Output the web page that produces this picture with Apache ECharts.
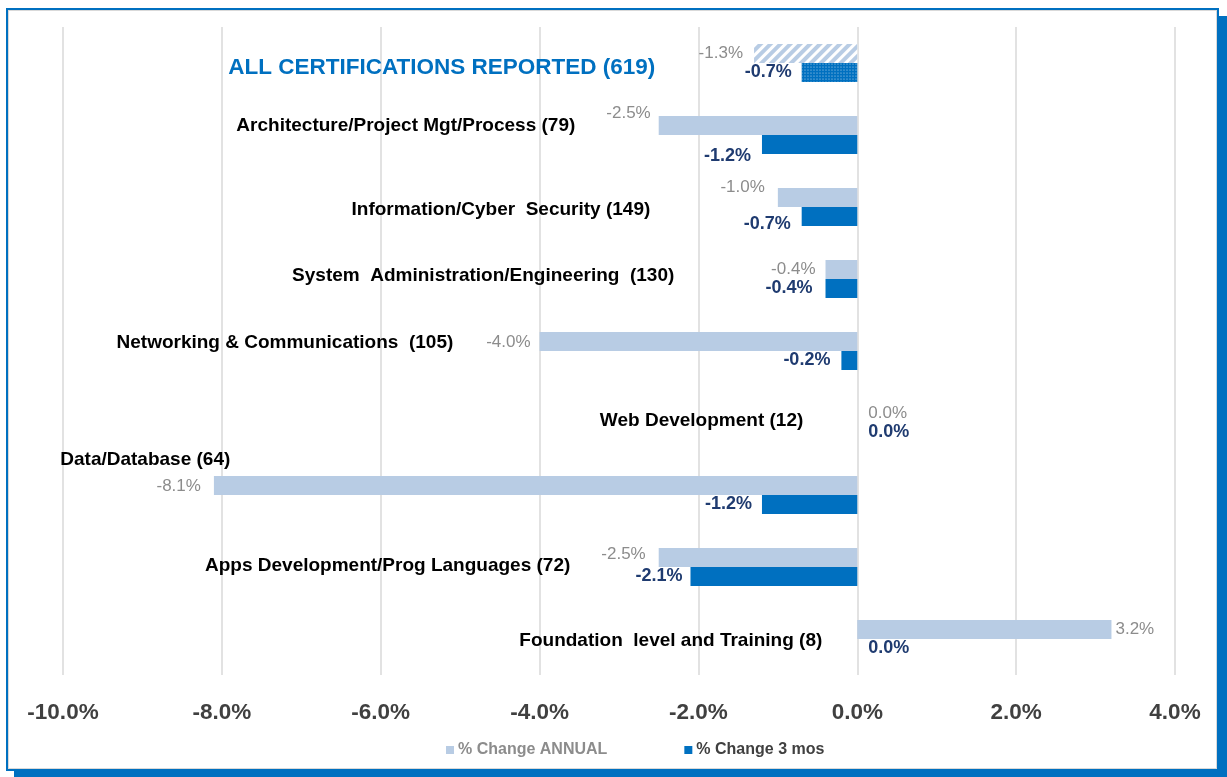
<!DOCTYPE html>
<html>
<head>
<meta charset="utf-8">
<script src="https://cdn.jsdelivr.net/npm/echarts@6/dist/echarts.min.js"></script>
<style>
  html, body { margin: 0; padding: 0; background: #fff; }
  #frame {
    position: absolute; left: 6px; top: 8px; width: 1209px; height: 759px;
    border: 2px solid #0070C0;
    box-shadow: inset 0 0 0 1px #d9d9d9, 8px 8px 0 #0070C0;
  }
  #chart { position: absolute; left: 0; top: 0; width: 1227px; height: 777px; }
</style>
</head>
<body>
<div id="frame"></div>
<div id="chart"></div>
<script>
// categories, top to bottom
const categories = [
  'ALL CERTIFICATIONS REPORTED (619)',
  'Architecture/Project Mgt/Process (79)',
  'Information/Cyber  Security (149)',
  'System  Administration/Engineering  (130)',
  'Networking & Communications  (105)',
  'Web Development (12)',
  'Data/Database (64)',
  'Apps Development/Prog Languages (72)',
  'Foundation  level and Training (8)'
];
// % change values
const annual   = [-1.3, -2.5, -1.0, -0.4, -4.0, 0.0, -8.1, -2.5, 3.2];
const threeMos = [-0.7, -1.2, -0.7, -0.4, -0.2, 0.0, -1.2, -2.1, 0.0];
const seriesNames = ['% Change ANNUAL', '% Change 3 mos'];

// label nudges (px) as placed by hand in the original
const annualShift = [[-11, 0], [-8, -12], [-13, -10], [-10, 0], [-9, 1], [11, 0], [-13, 1], [-13, -3], [4, 0]];
const threeShift  = [[-10, 0], [-11, 12], [-11, 8], [-13, 0], [-11, 0], [11, 0], [-10, 0], [-8, 0], [11, 0]];
const catShift    = [[-202, 5], [-282, -9], [-207, 3], [-183, -3], [-404, -8], [-54, -2], [-627, -35], [-287, -1], [-35, 2]];

const cAnnual = '#B8CCE4';
const cThree = '#0070C0';

function barData(vals, shifts, first) {
  return vals.map((v, i) => {
    const item = {
      value: v,
      label: { position: v < 0 ? 'left' : 'right', offset: shifts[i] }
    };
    if (i === 0) item.itemStyle = first;
    return item;
  });
}

const chart = echarts.init(document.getElementById('chart'));
chart.setOption({
  animation: false,
  grid: { left: 63, right: 52, top: 27, bottom: 102 },
  xAxis: {
    type: 'value', min: -10, max: 4, interval: 2,
    axisLine: { show: false }, axisTick: { show: false },
    splitLine: { lineStyle: { color: '#D9D9D9', width: 1.5 } },
    axisLabel: {
      formatter: v => v.toFixed(1) + '%',
      color: '#404040', fontSize: 22.5, fontWeight: 'bold',
      fontFamily: 'Liberation Sans, Arial', margin: 26
    }
  },
  yAxis: {
    type: 'category', data: categories, inverse: true,
    axisLine: { show: false }, axisTick: { show: false }, axisLabel: { show: false }
  },
  legend: {
    left: 441, top: 737, itemWidth: 8, itemHeight: 8, itemGap: 77,
    icon: 'rect',
    textStyle: { fontSize: 16, fontWeight: 'bold', fontFamily: 'Liberation Sans, Arial', padding: [0, 0, 0, -1] },
    data: [
      { name: seriesNames[0], textStyle: { color: '#8C8C8C' } },
      { name: seriesNames[1], textStyle: { color: '#404040' } }
    ]
  },
  series: [
    {
      name: seriesNames[0], type: 'bar', barWidth: 19, barGap: 0,
      itemStyle: { color: cAnnual },
      label: {
        show: true, distance: 0, formatter: p => p.value.toFixed(1) + '%',
        color: '#8C8C8C', fontSize: 17, fontFamily: 'Liberation Sans, Arial'
      },
      data: barData(annual, annualShift, {
        color: '#fff',
        decal: {
          symbol: 'rect', symbolSize: 1, color: cAnnual,
          dashArrayX: [1, 0], dashArrayY: [4, 3], rotation: -Math.PI / 4
        }
      })
    },
    {
      name: seriesNames[1], type: 'bar', barWidth: 19, barGap: 0,
      itemStyle: { color: cThree },
      label: {
        show: true, distance: 0, formatter: p => p.value.toFixed(1) + '%',
        color: '#1F3B70', fontSize: 18, fontWeight: 'bold', fontFamily: 'Liberation Sans, Arial'
      },
      data: barData(threeMos, threeShift, {
        color: cThree,
        decal: {
          symbol: 'circle', symbolSize: 0.6, color: 'rgba(255,255,255,0.75)',
          dashArrayX: [2, 1], dashArrayY: [2, 1]
        }
      })
    },
    {
      // category names placed next to their bars
      type: 'scatter', symbolSize: 0, silent: true, z: 5,
      itemStyle: { opacity: 1 },
      label: {
        show: true, position: 'left', distance: 0,
        formatter: p => p.value[1],
        color: '#000', fontSize: 19, fontWeight: 'bold', fontFamily: 'Liberation Sans, Arial'
      },
      data: categories.map((c, i) => ({
        value: [0, c],
        label: i === 0
          ? { offset: catShift[i], color: '#0070C0', fontSize: 22.5 }
          : { offset: catShift[i] }
      }))
    }
  ]
});
</script>
</body>
</html>
